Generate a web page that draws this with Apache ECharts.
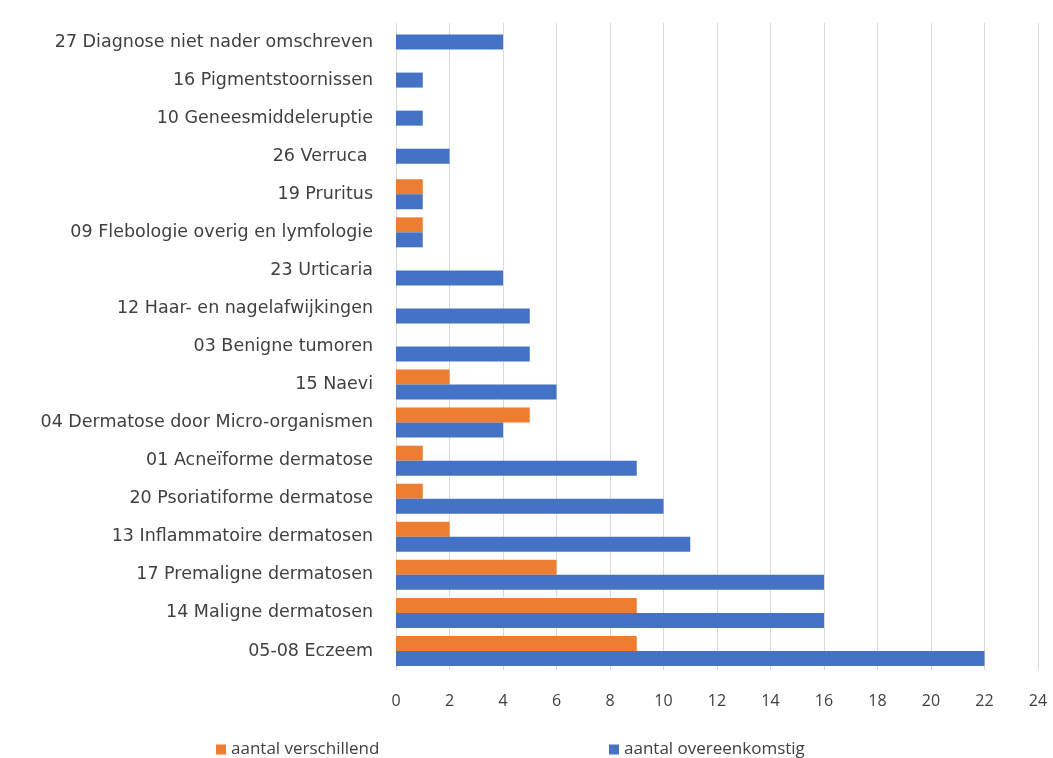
<!DOCTYPE html>
<html>
<head>
<meta charset="utf-8">
<script src="https://cdn.jsdelivr.net/npm/echarts@6/dist/echarts.min.js"></script>
<style>html,body{margin:0;padding:0;background:#fff;}#c{width:1053px;height:758px;}</style>
</head>
<body>
<div id="c"></div>
<script>
// categories listed bottom -> top (ECharts category axis order)
const categories = [
  '05-08 Eczeem',
  '14 Maligne dermatosen',
  '17 Premaligne dermatosen',
  '13 Inflammatoire dermatosen',
  '20 Psoriatiforme dermatose',
  '01 Acneïforme dermatose',
  '04 Dermatose door Micro-organismen',
  '15 Naevi',
  '03 Benigne tumoren',
  '12 Haar- en nagelafwijkingen',
  '23 Urticaria',
  '09 Flebologie overig en lymfologie',
  '19 Pruritus',
  '26 Verruca ',
  '10 Geneesmiddeleruptie',
  '16 Pigmentstoornissen',
  '27 Diagnose niet nader omschreven'
];
const verschillend = [9, 9, 6, 2, 1, 1, 5, 2, 0, 0, 0, 1, 1, null, null, null, null];
const overeenkomstig = [22, 16, 16, 11, 10, 9, 4, 6, 5, 5, 4, 1, 1, null, null, null, null];
// rows where only one bar exists (drawn centred in the row)
const overeenkomstigAlleen = [null, null, null, null, null, null, null, null, null, null, null, null, null, 2, 1, 1, 4];
const xTicks = { min: 0, max: 24, interval: 2 };

const ORANGE = '#ED7D31', BLUE = '#4472C4';
const FONT = 'Open Sans';
const chart = echarts.init(document.getElementById('c'));
chart.setOption({
  animation: false,
  textStyle: { fontFamily: FONT },
  grid: { left: 396, right: 15, top: 23, bottom: 88, containLabel: false },
  legend: [
    { data: ['aantal verschillend'], left: 211, top: 736, itemWidth: 10, itemHeight: 10, icon: 'rect',
      textStyle: { fontSize: 17, color: '#404040', fontFamily: FONT } },
    { data: ['aantal overeenkomstig'], left: 604, top: 736, itemWidth: 10, itemHeight: 10, icon: 'rect',
      textStyle: { fontSize: 17, color: '#404040', fontFamily: FONT } }
  ],
  xAxis: {
    type: 'value', min: xTicks.min, max: xTicks.max, interval: xTicks.interval,
    axisLine: { show: false }, axisTick: { show: false },
    axisLabel: { fontSize: 16, color: '#404040', margin: 23 },
    splitLine: { show: true, lineStyle: { color: '#D9D9D9', width: 1 } }
  },
  yAxis: [
    { type: 'category', data: categories,
      axisLine: { show: false }, axisTick: { show: false },
      axisLabel: { fontSize: 17.5, color: '#404040', margin: 23, fontFamily: 'DejaVu Sans' } },
    { type: 'category', data: categories, show: false }
  ],
  series: [
    { name: 'aantal verschillend', type: 'bar', data: verschillend, barWidth: 15, barGap: '0%',
      itemStyle: { color: ORANGE, borderWidth: 0 } },
    { name: 'aantal overeenkomstig', type: 'bar', data: overeenkomstig, barWidth: 15, barGap: '0%',
      itemStyle: { color: BLUE, borderWidth: 0 } },
    { name: 'aantal overeenkomstig', type: 'bar', yAxisIndex: 1, data: overeenkomstigAlleen, barWidth: 15,
      itemStyle: { color: BLUE, borderWidth: 0 } }
  ]
});
</script>
</body>
</html>
